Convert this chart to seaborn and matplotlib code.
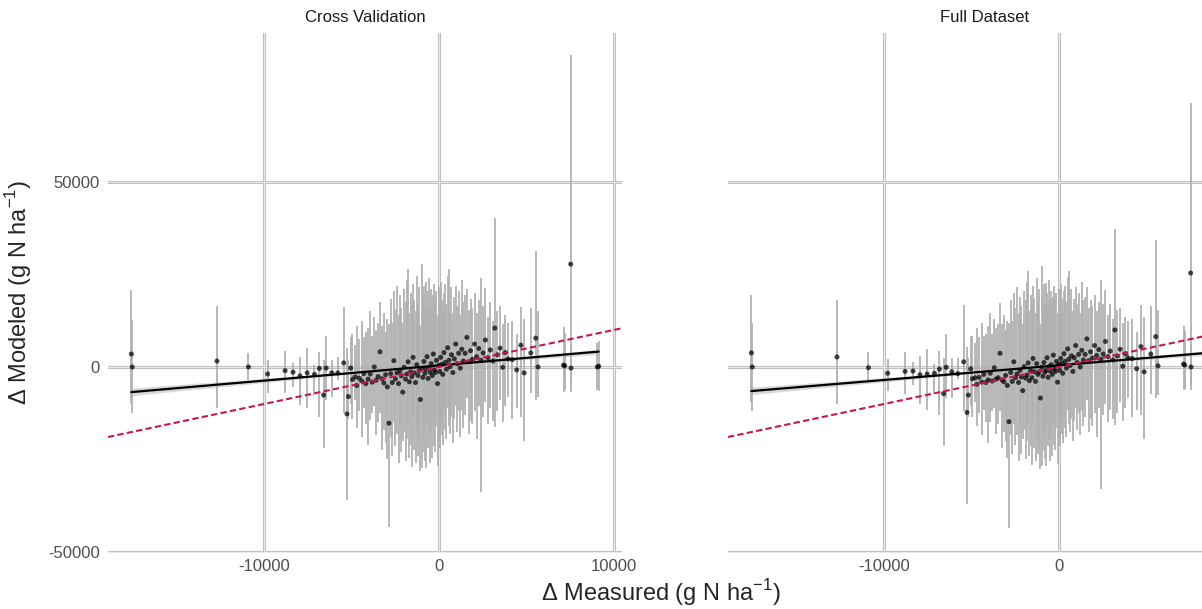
import matplotlib
matplotlib.use("Agg")
import matplotlib.pyplot as plt
import seaborn as sns
import pandas as pd

# measured change (x), shared by both panels
dense_x = [-4950, -4800, -4700, -4560, -4420, -4300, -4180, -4050, -3930, -3820,
           -3700, -3600, -3480, -3370, -3260, -3150, -3050, -2950, -2860, -2760,
           -2670, -2580, -2490, -2400, -2310, -2230, -2150, -2070, -1990, -1910,
           -1830, -1760, -1690, -1620, -1550, -1480, -1410, -1340, -1270, -1200,
           -1130, -1060, -990, -920, -860, -800, -740, -680, -620, -560,
           -500, -440, -380, -320, -260, -200, -140, -80, -20, 40,
           100, 160, 220, 290, 360, 430, 500, 570, 640, 720,
           800, 880, 960, 1040, 1130, 1220, 1310, 1400, 1500, 1600,
           1700, 1810, 1920, 2040, 2160, 2280, 2400, 2530, 2660, 2800,
           2940, 3080, 3200, 3350, 3500, 3650, 3800, 3950]
sparse_x = [-17600, -17550, -12700, -10900, -9800, -8800, -8350, -7950, -7540, -7120,
            -6840, -6600, -6450, -6130, -5790, -5450, -5260, -5180, -5050, 4200,
            4450, 4690, 4880, 5260, 5540, 5670, 7130, 7200, 7540, 7560, 9070, 9140]

# Cross Validation: modeled mean and interval
cv_y = [-3400, -2700, -5000, -3000, -3800, -1800, -4500, -3300, -1900, -4100,
        0, -3600, -2600, 4100, -3200, -4300, -2100, -5400, -15200, -1800,
        -4200, 1700, -3200, -1600, -4500, -1100, -2400, -6800, -100, -3300,
        -1900, 1400, -4000, -1300, -2600, 2600, -1600, -4200, 600, -2300,
        -1000, -8800, -400, -2800, 1500, -1700, -600, 2800, -3100, -200,
        -1400, 900, -2300, 3500, -800, -1500, 1800, -4500, 400, -1200,
        2600, 700, -2000, 3900, 1200, -600, 5200, 1800, 100, 3300,
        -1500, 2200, 6200, 900, 3700, -300, 4800, 1600, 3700, 8000,
        1400, 4400, 2100, 6200, 2800, 5000, 1800, 3800, 7300, 2500,
        4600, 1600, 10500, 3300, 5100, -100, 3900, 2200]
cv_lo = [-14000, -9000, -16500, -12000, -19000, -11000, -15500, -21000, -14300, -12500,
         -10500, -18500, -15000, -12500, -22500, -17000, -20500, -25000, -43200, -19000,
         -24000, -15000, -21500, -18000, -26000, -16500, -23000, -20000, -17500, -25500,
         -19500, -15500, -24500, -21000, -27000, -14000, -22500, -26000, -18500, -24000,
         -20500, -28000, -27300, -23000, -17000, -25500, -27300, -15500, -22000, -19000,
         -26000, -17500, -24500, -14500, -21500, -23000, -16000, -26700, -20000, -22000,
         -15000, -18500, -21000, -12500, -17000, -19500, -11000, -16000, -18000, -13500,
         -20500, -14000, -10500, -17500, -12000, -19000, -11500, -16500, -13000, -8500,
         -18000, -14500, -15500, -12000, -19500, -10500, -33700, -13500, -9500, -15500,
         -11000, -14500, -16100, -12000, -9000, -15000, -10500, -8000]
cv_hi = [9000, 6000, 11000, 7500, 12500, 8000, 9500, 10500, 15200, 8500,
         13500, 10000, 12000, 17700, 11000, 14500, 9500, 13000, 11500, 18500,
         12000, 20500, 15500, 22000, 14000, 19500, 16000, 12000, 21000, 17500,
         23500, 26500, 14500, 20000, 16500, 22500, 18000, 15000, 24500, 17000,
         21500, 11000, 27800, 18500, 22000, 16000, 23100, 20500, 15500, 24000,
         17500, 21000, 16000, 19500, 22500, 18000, 20500, 14000, 21500, 16500,
         23000, 18000, 15500, 20000, 22500, 17000, 24500, 26400, 15000, 21500,
         14500, 19000, 22000, 16500, 20500, 14000, 23500, 17500, 19500, 21000,
         15500, 18500, 16000, 20000, 14500, 18000, 24000, 16500, 21400, 13500,
         17500, 12500, 40400, 15000, 16500, 11500, 14000, 12000]
cv_sparse_y = [3500, 0, 1600, 0, -1900, -1000, -1400, -2400, -1600, -2000,
               -400, -7600, -300, -1600, -1600, 1100, -12700, -8000, -300, 2000,
               -800, 5900, -1600, 3800, 7800, 0, 500, 300, 27800, -300, 0, 200]
cv_sparse_lo = [-10000, -12400, -11000, -3500, -7000, -7100, -5300, -10300, -11100, -7600,
                -13400, -21900, -8900, -8000, -3500, -12500, -36000, -14000, -10000, -14000,
                -11000, -13400, -20000, -7000, -8900, -8000, -6700, -6200, -6700, -5000, -6200, -6500]
cv_sparse_hi = [20800, 12700, 16500, 3800, 1900, 4400, 1000, 2800, 5100, 500,
                4100, 1900, 8400, 2000, 2800, 16300, 5100, 2000, 8000, 12500,
                9000, 16300, 13000, 15900, 31300, 15000, 10800, 9200, 84300, 6000, 6500, 7000]

# Full Dataset: modeled mean and interval
full_y = [-3200, -2900, -4700, -2800, -4100, -2000, -4200, -3500, -1700, -3800,
          -200, -3300, -2900, 3700, -3500, -4000, -2300, -5000, -14800, -1500,
          -3900, 1400, -2900, -1900, -4200, -900, -2700, -6400, 100, -3000,
          -2200, 1100, -3700, -1000, -2900, 2300, -1300, -3900, 900, -2000,
          -1300, -8400, -100, -2500, 1200, -1400, -900, 2500, -2800, 100,
          -1100, 600, -2000, 3200, -500, -1200, 1500, -4100, 700, -900,
          2300, 1000, -1700, 3600, 1500, -300, 4900, 2100, 400, 3000,
          -1200, 2500, 5800, 1200, 3400, 0, 4500, 1900, 3400, 7600,
          1700, 4100, 2400, 5800, 3100, 4700, 2100, 3500, 6900, 2800,
          4300, 1900, 10000, 3000, 4800, 200, 3600, 2500]
full_lo = [-13500, -9500, -16000, -12500, -18500, -11500, -15000, -20500, -14800, -12000,
           -11000, -18000, -15500, -12000, -22000, -17500, -20000, -24500, -43500, -18500,
           -23500, -15500, -21000, -18500, -25500, -16000, -23500, -19500, -17000, -25000,
           -20000, -15000, -24000, -21500, -26500, -14500, -22000, -25500, -19000, -23500,
           -21000, -27500, -26800, -22500, -17500, -25000, -26800, -16000, -21500, -19500,
           -25500, -18000, -24000, -15000, -21000, -22500, -16500, -26200, -19500, -21500,
           -15500, -18000, -20500, -13000, -16500, -19000, -11500, -15500, -17500, -14000,
           -20000, -14500, -11000, -17000, -12500, -18500, -12000, -16000, -13500, -9000,
           -17500, -14000, -16000, -12500, -19000, -11000, -33000, -13000, -10000, -15000,
           -11500, -14000, -15600, -12500, -9500, -14500, -11000, -8500]
full_hi = [8500, 6500, 10500, 8000, 12000, 8500, 9000, 11000, 14700, 9000,
           13000, 10500, 11500, 17200, 11500, 14000, 10000, 12500, 12000, 18000,
           12500, 20000, 16000, 21500, 14500, 19000, 16500, 11500, 20500, 18000,
           23000, 26000, 15000, 19500, 17000, 22000, 18500, 14500, 24000, 17500,
           21000, 11500, 27300, 18000, 22500, 16500, 22600, 20000, 16000, 23500,
           18000, 20500, 16500, 19000, 22000, 18500, 20000, 14500, 21000, 17000,
           22500, 18500, 15000, 20500, 22000, 17500, 24000, 25900, 15500, 21000,
           15000, 18500, 21500, 17000, 20000, 14500, 23000, 18000, 19000, 21500,
           16000, 18000, 16500, 19500, 15000, 17500, 23500, 17000, 20900, 14000,
           17000, 13000, 37300, 15500, 16000, 12000, 13500, 12500]
full_sparse_y = [3800, 0, 2700, -200, -1700, -1200, -1100, -2100, -1900, -1700,
                 -600, -7200, -100, -1300, -1800, 1400, -12300, -7600, -500, 2300,
                 -500, 5500, -1300, 3500, 8200, 300, 800, 500, 25400, 0, 300, 500]
full_sparse_lo = [-9500, -12000, -10000, -3800, -6500, -7400, -5000, -10000, -11500, -7300,
                  -13000, -21500, -8500, -8400, -3200, -12000, -37000, -13500, -10500, -13500,
                  -11500, -13000, -19500, -7400, -8500, -7600, -6200, -6000, -6200, -4800, -6000, -6200]
full_sparse_hi = [19500, 12000, 18000, 4000, 2200, 4100, 1300, 3100, 4800, 800,
                  4400, 2300, 8800, 2400, 2500, 16800, 5500, 2400, 8400, 13000,
                  9500, 16800, 13500, 16400, 34300, 15500, 11200, 9600, 71500, 6300, 6800, 7300]

panels = ["Cross Validation", "Full Dataset"]

frames = []
for name, y, lo, hi, sy, slo, shi in [
        (panels[0], cv_y, cv_lo, cv_hi, cv_sparse_y, cv_sparse_lo, cv_sparse_hi),
        (panels[1], full_y, full_lo, full_hi, full_sparse_y, full_sparse_lo, full_sparse_hi)]:
    frames.append(pd.DataFrame({"panel": name, "measured": dense_x + sparse_x,
                                "modeled": y + sy, "lower": lo + slo, "upper": hi + shi}))
df = pd.concat(frames, ignore_index=True)

sns.set_theme(style="white")
plt.rcParams["font.family"] = ["Liberation Sans", "DejaVu Sans"]
plt.rcParams["mathtext.fontset"] = "custom"
plt.rcParams["mathtext.rm"] = "Liberation Sans"
plt.rcParams["axes.unicode_minus"] = False

W, H = 1202, 609
fig = plt.figure(figsize=(W / 100, H / 100), dpi=100)
# second panel runs past the right edge, as in the cropped original
axes = [fig.add_axes([108 / W, 56 / H, 514 / W, 520 / H]),
        fig.add_axes([728 / W, 56 / H, 514 / W, 520 / H])]

xmin, xmax = df["measured"].min(), df["measured"].max()
xpad = 0.05 * (xmax - xmin)

for ax, name in zip(axes, panels):
    d = df[df["panel"] == name]
    ax.vlines(d["measured"], d["lower"], d["upper"], color="#b0b0b0", lw=1.4, alpha=0.9, zorder=2)
    sns.scatterplot(data=d, x="measured", y="modeled", ax=ax, color="black", s=13,
                    alpha=0.72, edgecolor="none", zorder=3)
    sns.regplot(data=d, x="measured", y="modeled", ax=ax, scatter=False, ci=40, seed=1,
                color="black", line_kws={"lw": 1.6, "zorder": 5})
    ax.axline((0, 0), slope=1, color="#c8174a", lw=1.5, dashes=(3, 1.6), zorder=6)

    ax.set_xlim(xmin - xpad, xmax + xpad)
    ax.set_ylim(-50300, 90300)
    ax.set_xticks([-10000, 0, 10000])
    ax.set_yticks([-50000, 0, 50000])
    ax.set_axisbelow(True)
    ax.grid(True, color="#c0c0c0", lw=2.2)
    for t in ax.get_xticks():
        ax.axvline(t, color="#ececec", lw=0.7, zorder=0.6)
    for t in ax.get_yticks():
        ax.axhline(t, color="#ececec", lw=0.7, zorder=0.6)
    for s in ax.spines.values():
        s.set_visible(False)
    ax.tick_params(length=0, labelsize=12, labelcolor="#4d4d4d", pad=4)
    ax.tick_params(axis="y", pad=6)
    ax.set_xlabel("")
    ax.set_ylabel("")
    ax.set_title(name, fontsize=12, color="#1a1a1a", pad=8)

# the 10000 break of the right panel falls outside the cropped image
axes[1].set_xticks([-10000, 0])
axes[1].set_yticklabels([])

fig.text(661 / W, 16 / H, "Δ Measured (g N ha$^{-1}$)", ha="center", va="center", fontsize=17)
fig.text(19 / W, 1 - 292 / H, "Δ Modeled (g N ha$^{-1}$)", ha="center", va="center",
         rotation=90, fontsize=17)

fig.savefig("out.png", dpi=100)
